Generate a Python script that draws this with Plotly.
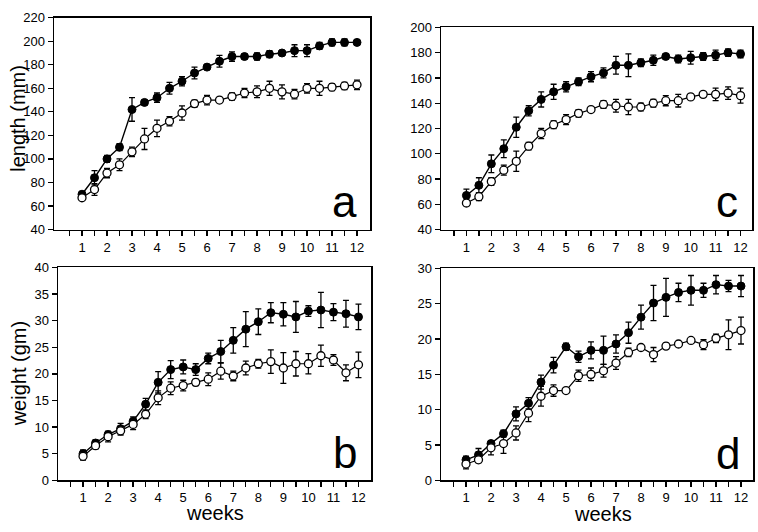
import plotly.graph_objects as go

weeks = [1, 1.5, 2, 2.5, 3, 3.5, 4, 4.5, 5, 5.5, 6, 6.5, 7, 7.5, 8, 8.5, 9, 9.5, 10, 10.5, 11, 11.5, 12]

# panel a: length (mm)
a_filled = [70, 84, 100, 110, 142, 148, 152, 160, 166, 173, 178, 183, 187, 187, 187, 189, 190, 192, 192, 196, 199, 199, 199]
a_filled_err = [2, 6, 3, 3, 10, 2, 4, 5, 4, 5, 1, 5, 4, 2, 3, 3, 2, 5, 5, 3, 3, 3, 2]
a_open = [67, 74, 88, 95, 106, 117, 126, 132, 139, 147, 150, 150, 153, 156, 157, 160, 157, 155, 160, 160, 161, 162, 163]
a_open_err = [2, 5, 4, 5, 4, 9, 7, 4, 6, 3, 4, 2, 3, 4, 5, 6, 6, 4, 4, 6, 3, 3, 4]

# panel b: weight (gm)
b_filled = [5.0, 7.0, 8.6, 9.7, 11.1, 14.3, 18.4, 20.8, 21.3, 20.8, 22.9, 24.2, 26.3, 28.4, 29.8, 31.5, 31.2, 30.7, 31.8, 32.0, 31.6, 31.3, 30.7]
b_filled_err = [0.7, 0.6, 0.6, 1.0, 0.8, 1.1, 2.0, 1.7, 1.3, 1.1, 1.0, 2.1, 2.4, 3.3, 2.4, 1.9, 2.2, 2.9, 1.0, 3.3, 1.6, 2.5, 2.4]
b_open = [4.5, 6.5, 8.2, 9.3, 10.5, 12.4, 15.5, 17.3, 17.8, 18.4, 19.0, 20.5, 19.6, 21.1, 21.9, 22.3, 21.1, 21.9, 21.9, 23.4, 22.6, 20.2, 21.7]
b_open_err = [0.7, 0.6, 1.0, 0.8, 1.0, 0.8, 1.3, 1.2, 1.0, 0.6, 1.2, 1.5, 0.9, 1.3, 0.8, 2.2, 2.9, 2.3, 1.9, 2.0, 1.0, 1.5, 2.4]

# panel c: length (mm)
c_filled = [67, 75, 92, 104, 121, 134, 143, 149, 153, 157, 161, 164, 170, 170, 172, 174, 177, 175, 176, 177, 178, 180, 179]
c_filled_err = [5, 6, 7, 7, 8, 4, 6, 6, 4, 3, 4, 4, 7, 9, 3, 4, 2, 3, 5, 3, 4, 3, 3]
c_open = [61, 66, 78, 87, 94, 106, 116, 123, 127, 132, 135, 139, 138, 137, 137, 140, 142, 142, 145, 147, 147, 148, 146]
c_open_err = [2, 3, 3, 4, 8, 3, 4, 3, 4, 3, 2, 3, 5, 6, 3, 3, 4, 5, 2, 2, 5, 5, 6]

# panel d: weight (gm)
d_filled = [2.9, 3.6, 5.2, 6.6, 9.4, 10.9, 13.9, 16.3, 18.9, 17.5, 18.4, 18.4, 19.3, 20.9, 23.1, 25.1, 25.9, 26.6, 26.9, 26.9, 27.7, 27.5, 27.5]
d_filled_err = [0.5, 0.9, 0.3, 0.5, 1.0, 0.8, 1.0, 1.1, 0.5, 0.8, 1.2, 2.0, 1.3, 1.5, 1.7, 2.5, 2.7, 1.3, 2.1, 1.0, 1.3, 0.8, 1.5]
d_open = [2.3, 2.9, 4.6, 5.2, 6.7, 9.5, 11.9, 12.7, 12.7, 14.8, 15.0, 15.5, 16.6, 18.1, 18.8, 17.8, 19.0, 19.3, 19.8, 19.2, 20.1, 20.6, 21.2]
d_open_err = [0.7, 0.4, 1.0, 1.4, 1.0, 1.2, 1.4, 0.8, 0.4, 0.8, 0.9, 0.9, 0.9, 0.6, 0.3, 1.0, 0.4, 0.2, 0.4, 0.7, 0.6, 2.1, 1.9]

week_ticks = [1, 2, 3, 4, 5, 6, 7, 8, 9, 10, 11, 12]
half_ticks = [0.5, 1.5, 2.5, 3.5, 4.5, 5.5, 6.5, 7.5, 8.5, 9.5, 10.5, 11.5]
panel_letters = ["a", "b", "c", "d"]

W, H = 758, 532
FONT = "Liberation Sans, Arial, sans-serif"

fig = go.Figure()

panels = [
    (a_filled, a_filled_err, a_open, a_open_err, "x", "y"),
    (b_filled, b_filled_err, b_open, b_open_err, "x2", "y2"),
    (c_filled, c_filled_err, c_open, c_open_err, "x3", "y3"),
    (d_filled, d_filled_err, d_open, d_open_err, "x4", "y4"),
]

for fv, fe, ov, oe, xa, ya in panels:
    fig.add_trace(go.Scatter(
        x=weeks, y=fv, mode="lines+markers", xaxis=xa, yaxis=ya,
        line=dict(color="black", width=1.4),
        marker=dict(symbol="circle", size=8, color="black", line=dict(color="black", width=1)),
        error_y=dict(type="data", array=fe, visible=True, color="black", thickness=1.3, width=3),
        showlegend=False, cliponaxis=False, hoverinfo="skip"))
    fig.add_trace(go.Scatter(
        x=weeks, y=ov, mode="lines+markers", xaxis=xa, yaxis=ya,
        line=dict(color="black", width=1.2),
        marker=dict(symbol="circle", size=8, color="white", line=dict(color="black", width=1.3)),
        error_y=dict(type="data", array=oe, visible=True, color="black", thickness=1.3, width=3),
        showlegend=False, cliponaxis=False, hoverinfo="skip"))


def px_x(p):
    return p / W


def px_y(p):
    return 1 - p / H


boxes = {
    "": ((54, 370), (11, 229), (-0.12, 12.52), (40, 220), 20),
    "2": ((58, 371), (268, 487), (0.0, 12.5), (0, 40), 5),
    "3": ((441, 752), (21, 229), (-0.02, 12.46), (40, 200), 20),
    "4": ((441, 753), (269, 487), (0.0, 12.48), (0, 30), 5),
}

axis_common = dict(showline=True, linecolor="black", linewidth=1.5, mirror=True,
                   showgrid=False, zeroline=False, ticks="outside", ticklen=5,
                   tickwidth=1.3, tickcolor="black",
                   tickfont=dict(family=FONT, size=13, color="black"))

layout_axes = {}
for suf, (xr, yr, xrange, yrange, ydt) in boxes.items():
    xname = "xaxis" + suf
    yname = "yaxis" + suf
    layout_axes[xname] = dict(
        axis_common, domain=[px_x(xr[0]), px_x(xr[1])], range=list(xrange),
        tickmode="array", tickvals=week_ticks,
        minor=dict(tickmode="array", tickvals=half_ticks, ticks="outside", ticklen=5,
                   tickwidth=1.3, tickcolor="black"),
        anchor="y" + suf)
    layout_axes[yname] = dict(
        axis_common, domain=[px_y(yr[1]), px_y(yr[0])], range=list(yrange),
        tickmode="linear", tick0=yrange[0], dtick=ydt,
        anchor="x" + suf)

fig.update_layout(**layout_axes)

annotations = [
    dict(text="length (mm)", x=px_x(18), y=px_y(115), textangle=-90),
    dict(text="weight (gm)", x=px_x(19), y=px_y(378), textangle=-90),
    dict(text="weeks", x=px_x(215), y=px_y(521)),
    dict(text="weeks", x=px_x(603), y=px_y(522)),
]
anns = []
for a in annotations:
    anns.append(dict(a, xref="paper", yref="paper", showarrow=False,
                     xanchor="center", yanchor="middle",
                     font=dict(family=FONT, size=20, color="black")))

letter_pos = [(359, 200), (359, 458), (740, 200), (742, 459)]
for letter, (lx, ly) in zip(panel_letters, letter_pos):
    anns.append(dict(text=letter, x=px_x(lx), y=px_y(ly), xref="paper", yref="paper",
                     showarrow=False, xanchor="right", yanchor="middle",
                     font=dict(family=FONT, size=44, color="black")))

fig.update_layout(
    width=W, height=H, margin=dict(l=0, r=0, t=0, b=0),
    paper_bgcolor="white", plot_bgcolor="white",
    annotations=anns, showlegend=False, hovermode=False,
)

fig.write_html("out.html", config={"displayModeBar": False, "staticPlot": True},
               post_script="document.body.style.margin='0';document.body.style.overflow='hidden';")
